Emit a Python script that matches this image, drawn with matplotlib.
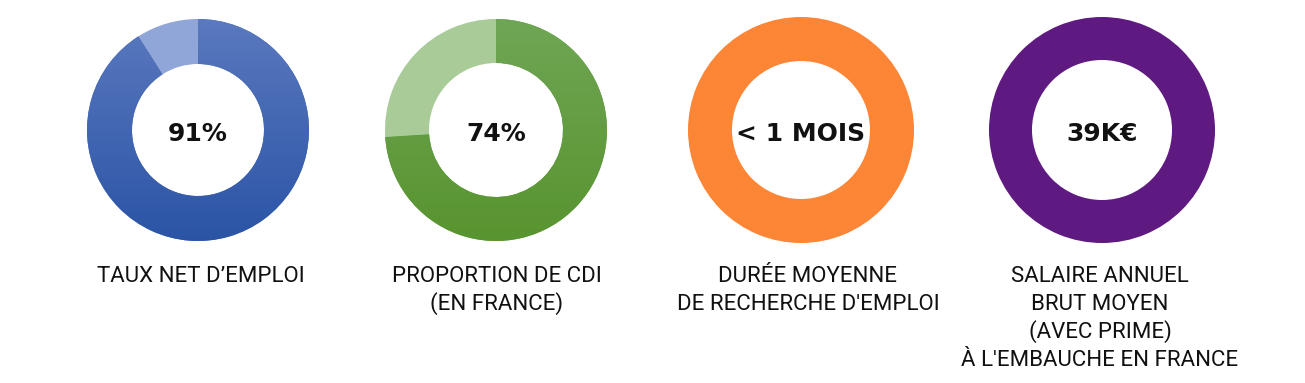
import matplotlib
matplotlib.use("Agg")
import matplotlib.pyplot as plt
from matplotlib.colors import LinearSegmentedColormap
import numpy as np

# chart data
center_texts = ["91%", "74%", "< 1 MOIS", "39K€"]
shares = [[91, 9], [74, 26], [100], [100]]
captions = [
    ["TAUX NET D\u2019EMPLOI"],
    ["PROPORTION DE CDI", "(EN FRANCE)"],
    ["DURÉE MOYENNE", "DE RECHERCHE D'EMPLOI"],
    ["SALAIRE ANNUEL", "BRUT MOYEN", "(AVEC PRIME)", "À L'EMBAUCHE EN FRANCE"],
]

# layout (pixels, y measured from the top)
W, H = 1305, 383
cx_list = [198, 496, 801, 1102]
cy = 130
r_out = [111, 111, 113, 113]
r_in = [66, 67, 69, 70]
cap_x = [201, 497, 808, 1100]
cap_y0 = 276
cap_dy = 28

# styles: (gradient top, gradient bottom) for main slice, flat colour for rest
main_grad = [("#5a79be", "#2b54a6"), ("#6fa655", "#58942f"),
             ("#fd8536", "#fd8536"), ("#5e1a80", "#5e1a80")]
rest_col = ["#91a6d8", "#a8cb98"]

fig = plt.figure(figsize=(W / 100, H / 100), dpi=100)
ax = fig.add_axes([0, 0, 1, 1])

label_font = ["Roboto", "DejaVu Sans"]

for i in range(4):
    cx, cyy = cx_list[i], H - cy
    cols = [main_grad[i][0]] + rest_col[i:i + 1] * (len(shares[i]) - 1)
    wedges, _ = ax.pie(shares[i], colors=cols, startangle=90, counterclock=False,
                       radius=r_out[i], center=(cx, cyy),
                       wedgeprops=dict(width=r_out[i] - r_in[i], linewidth=0))
    top, bot = main_grad[i]
    if top != bot:
        cmap = LinearSegmentedColormap.from_list("g%d" % i, [bot, top])
        grad = np.linspace(0, 1, 256).reshape(-1, 1)
        im = ax.imshow(grad, extent=[cx - r_out[i], cx + r_out[i],
                                     cyy - r_out[i], cyy + r_out[i]],
                       origin="lower", cmap=cmap, aspect="auto", zorder=1.5)
        im.set_clip_path(wedges[0])
    ax.text(cx, cyy - 4, center_texts[i], ha="center", va="center",
            fontsize=18, fontweight="bold", color="#111111",
            family="DejaVu Sans", zorder=5)
    for k, line in enumerate(captions[i]):
        ax.text(cap_x[i], H - (cap_y0 + k * cap_dy), line, ha="center",
                va="center", fontsize=16, color="#111111", family=label_font)

ax.set_xlim(0, W)
ax.set_ylim(0, H)
ax.set_aspect("auto")
ax.axis("off")
fig.savefig("out.png", dpi=100, facecolor="white")
